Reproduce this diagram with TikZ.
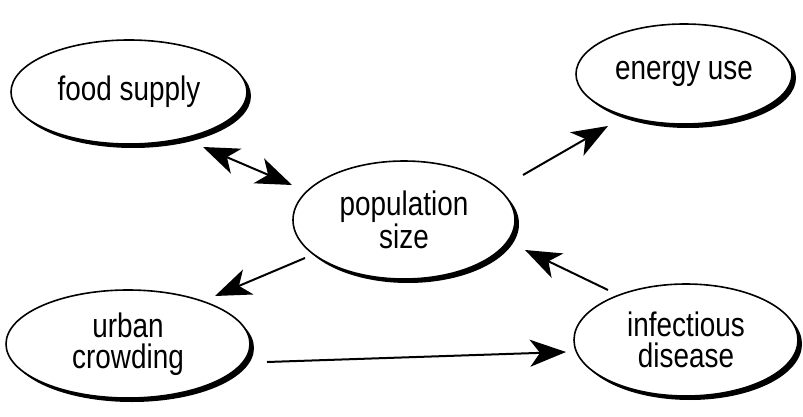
\documentclass[tikz,border=0pt]{standalone}
\usepackage{fontspec}
\setmainfont[FakeStretch=0.82]{Liberation Sans}
\usetikzlibrary{arrows.meta,shapes.geometric,shadows}
\tikzset{
  bubble/.style={ellipse, draw=black, line width=1.6pt, fill=white, inner sep=0pt,
    font=\fontsize{34}{31}\selectfont, align=center,
    drop shadow={shadow xshift=4pt, shadow yshift=-4pt, opacity=1, fill=black}},
  bigtip/.tip={Stealth[length=36pt,width=27pt,inset=10pt]},
  link/.style={line width=2pt, -bigtip},
  twoway/.style={line width=2pt, bigtip-bigtip}
}
\begin{document}
\begin{tikzpicture}[x=1pt,y=-1pt]
\useasboundingbox (0,0) rectangle (803,417);
% concept bubbles
\node[bubble, minimum width=236pt, minimum height=104pt] (food) at (129,92) {food supply};
\node[bubble, minimum width=216pt, minimum height=100pt] (energy) at (684,74) {energy use};
\node[bubble, minimum width=222pt, minimum height=118pt] (pop) at (404,220) {population\\size};
\node[bubble, minimum width=244pt, minimum height=108pt] (urban) at (128,344) {urban\\crowding};
\node[bubble, minimum width=224pt, minimum height=112pt] (disease) at (686,340) {infectious\\disease};
% connectors
\coordinate (fa) at (203,147);
\coordinate (pa) at (292,185);
\draw[twoway] (fa) -- (pa);
\coordinate (pe) at (523,175);
\coordinate (ea) at (608,126);
\draw[link] (pe) -- (ea);
\coordinate (pu) at (305,258);
\coordinate (ua) at (215,296);
\draw[link] (pu) -- (ua);
\coordinate (dp) at (608,290);
\coordinate (pd) at (525,250);
\draw[link] (dp) -- (pd);
\coordinate (ud) at (267,362);
\coordinate (du) at (566,352);
\draw[link] (ud) -- (du);
\end{tikzpicture}
\end{document}
